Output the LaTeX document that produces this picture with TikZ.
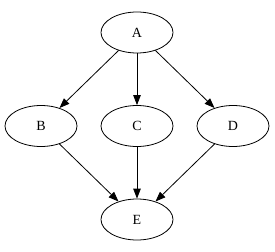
\documentclass[tikz,border=0pt]{standalone}
\usepackage{fontspec}
\setmainfont{Liberation Serif}
\usepackage{tikz}
\usetikzlibrary{arrows.meta,positioning,shapes.geometric}

\begin{document}
\begin{tikzpicture}[
  x=1pt,y=-1pt,
  vertex/.style={ellipse,draw,line width=0.8pt,minimum width=72pt,minimum height=41pt,inner sep=0pt,font=\fontsize{14}{16}\selectfont},
  arrow/.style={-{Triangle[length=10pt,width=7.5pt]},line width=0.8pt}
]
\useasboundingbox (0,0) rectangle (275,251);
\node[vertex] (A) at (137,32.5) {A};
\node[vertex] (B) at (41,126) {B};
\node[vertex] (C) at (137,126) {C};
\node[vertex] (D) at (233,126) {D};
\node[vertex] (E) at (137,219.5) {E};
\draw[arrow] (A) -- (B);
\draw[arrow] (A) -- (C);
\draw[arrow] (A) -- (D);
\draw[arrow] (B) -- (E);
\draw[arrow] (C) -- (E);
\draw[arrow] (D) -- (E);
\end{tikzpicture}
\end{document}
